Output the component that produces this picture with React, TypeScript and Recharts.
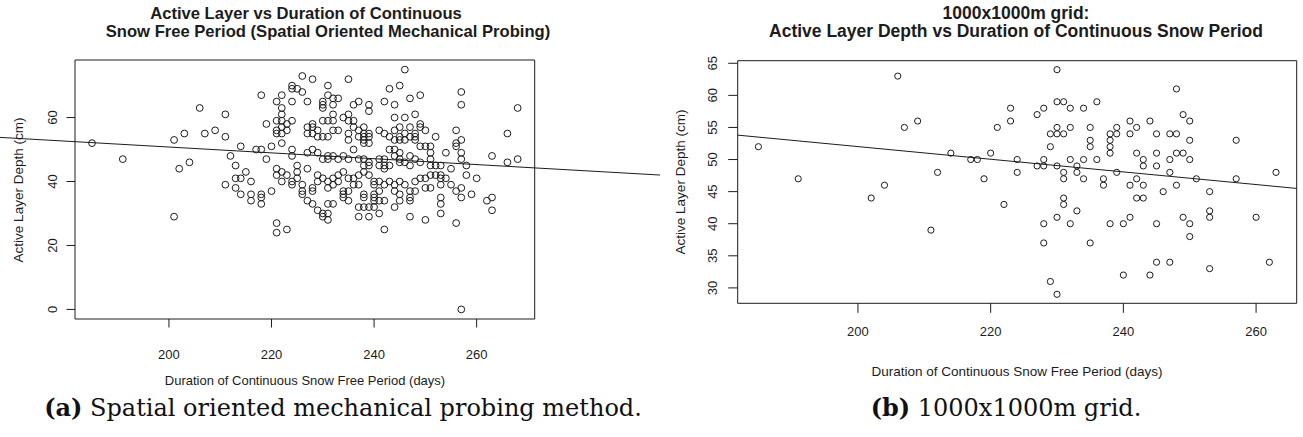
import React from "react";
import { ScatterChart, Scatter, XAxis, YAxis, ReferenceLine, ReferenceArea } from "recharts";

// (days, active layer depth cm)
const probePoints: [number, number][] = [
  [185, 52], [191, 47], [201, 53], [201, 29], [202, 44], [203, 55], [204, 46], [206, 63], [207, 55], [209, 56],
  [211, 61], [211, 54], [211, 39], [212, 48], [213, 45], [213, 41], [213, 38], [214, 51], [214, 41], [214, 36],
  [215, 43], [216, 40], [216, 36], [216, 34], [217, 50], [218, 67], [218, 50], [218, 36], [218, 35], [218, 33],
  [219, 58], [219, 47], [220, 51], [220, 37],
  [221, 65], [221, 59], [221, 56], [221, 55], [221, 44], [221, 42], [221, 27], [221, 24],
  [222, 67], [222, 63], [222, 61], [222, 59], [222, 57], [222, 55], [222, 52], [222, 43], [222, 40],
  [223, 58], [223, 56], [223, 42], [223, 25],
  [224, 70], [224, 69], [224, 65], [224, 59], [224, 50], [224, 48], [224, 40], [224, 39],
  [225, 69], [225, 45], [225, 43], [225, 41],
  [226, 73], [226, 68], [226, 39], [226, 37], [226, 36],
  [227, 65], [227, 57], [227, 55], [227, 49], [227, 44], [227, 34],
  [228, 72], [228, 58], [228, 57], [228, 55], [228, 50], [228, 38], [228, 37], [228, 33],
  [229, 56], [229, 54], [229, 49], [229, 42], [229, 40], [229, 31],
  [230, 65], [230, 64], [230, 63], [230, 59], [230, 54], [230, 47], [230, 41], [230, 30], [230, 29],
  [231, 70], [231, 67], [231, 59], [231, 54], [231, 48], [231, 47], [231, 40], [231, 38], [231, 33], [231, 30], [231, 28],
  [232, 66], [232, 64], [232, 61], [232, 59], [232, 56], [232, 48], [232, 41], [232, 39], [232, 33],
  [233, 66], [233, 56], [233, 47], [233, 42], [233, 40],
  [234, 60], [234, 48], [234, 43], [234, 37], [234, 36], [234, 35],
  [235, 72], [235, 61], [235, 59], [235, 55], [235, 53], [235, 47], [235, 41], [235, 37], [235, 34],
  [236, 64], [236, 59], [236, 57], [236, 50], [236, 41], [236, 39],
  [237, 65], [237, 56], [237, 54], [237, 47], [237, 42], [237, 39], [237, 32], [237, 29],
  [238, 57], [238, 55], [238, 54], [238, 53], [238, 52], [238, 47], [238, 45], [238, 43], [238, 36], [238, 35], [238, 32],
  [239, 64], [239, 62], [239, 55], [239, 54], [239, 52], [239, 46], [239, 45], [239, 42], [239, 32], [239, 29],
  [240, 40], [240, 39], [240, 36], [240, 35], [240, 34], [240, 32],
  [241, 56], [241, 47], [241, 45], [241, 40], [241, 37], [241, 34], [241, 30],
  [242, 65], [242, 55], [242, 47], [242, 45], [242, 44], [242, 39], [242, 34], [242, 25],
  [243, 69], [243, 54], [243, 50], [243, 45], [243, 40],
  [244, 64], [244, 60], [244, 56], [244, 53], [244, 50], [244, 48], [244, 39], [244, 37], [244, 32],
  [245, 70], [245, 57], [245, 54], [245, 53], [245, 49], [245, 47], [245, 46], [245, 40], [245, 36], [245, 34],
  [246, 75], [246, 60], [246, 55], [246, 53], [246, 46], [246, 39],
  [247, 66], [247, 57], [247, 54], [247, 48], [247, 45], [247, 37], [247, 35], [247, 34], [247, 29],
  [248, 61], [248, 55], [248, 54], [248, 53], [248, 47], [248, 40], [248, 37],
  [249, 67], [249, 58], [249, 57], [249, 51], [249, 46], [249, 41],
  [250, 56], [250, 51], [250, 41], [250, 38], [250, 28],
  [251, 51], [251, 49], [251, 47], [251, 45], [251, 42], [251, 38],
  [252, 54], [252, 45], [252, 42],
  [253, 45], [253, 42], [253, 41], [253, 39], [253, 35], [253, 33], [253, 30],
  [254, 49], [254, 41], [255, 44], [255, 39],
  [256, 56], [256, 52], [256, 51], [256, 37], [256, 27],
  [257, 68], [257, 64], [257, 53], [257, 49], [257, 47], [257, 38], [257, 35], [257, 0],
  [258, 45], [258, 42], [259, 36], [260, 41], [262, 34], [263, 48], [263, 35], [263, 31],
  [266, 55], [266, 46], [268, 63], [268, 47],
];

// (days, active layer depth cm) for the 1000x1000m grid panel
const gridPoints: [number, number][] = [
  [185, 52], [191, 47], [202, 44], [204, 46], [206, 63], [207, 55], [209, 56], [211, 39], [212, 48], [214, 51],
  [217, 50], [218, 50], [219, 47], [220, 51], [221, 55], [222, 43], [223, 58], [223, 56], [224, 50], [224, 48],
  [227, 57], [227, 49], [228, 58], [228, 50], [228, 49], [228, 40], [228, 37], [229, 54], [229, 52], [229, 31],
  [230, 64], [230, 59], [230, 55], [230, 54], [230, 49], [230, 41], [230, 29],
  [231, 59], [231, 54], [231, 48], [231, 47], [231, 44], [231, 43],
  [232, 58], [232, 55], [232, 50], [232, 40], [233, 49], [233, 48], [233, 42],
  [234, 58], [234, 50], [234, 47], [235, 55], [235, 53], [235, 52], [235, 37], [236, 59], [236, 50],
  [237, 47], [237, 46], [238, 54], [238, 53], [238, 52], [238, 51], [238, 40], [239, 55], [239, 54], [239, 48],
  [240, 40], [240, 32], [241, 56], [241, 54], [241, 46], [241, 41], [242, 55], [242, 51], [242, 47], [242, 44],
  [243, 50], [243, 49], [243, 46], [243, 44], [244, 56], [244, 32], [245, 54], [245, 51], [245, 49], [245, 40], [245, 34],
  [246, 45], [247, 54], [247, 50], [247, 48], [247, 34], [248, 61], [248, 54], [248, 51], [248, 46],
  [249, 57], [249, 51], [249, 41], [250, 56], [250, 53], [250, 50], [250, 40], [250, 38], [251, 47],
  [253, 45], [253, 42], [253, 41], [253, 33], [257, 53], [257, 47], [260, 41], [262, 34], [263, 48],
];

// fitted lines (abline), two end points each
const probeTrend: [number, number][] = [[167, 53.8], [296, 42.0]];
const gridTrend: [number, number][] = [[181.9, 53.8], [266.1, 45.5]];

const probeXTicks = [200, 220, 240, 260];
const probeYTicks = [0, 20, 40, 60];
const gridXTicks = [200, 220, 240, 260];
const gridYTicks = [30, 35, 40, 45, 50, 55, 60, 65];

const INK = "#1c1c1c";
const SANS = "'Liberation Sans', Arial, sans-serif";
const SERIF = "'DejaVu Serif', serif";

// R style axis limits: data range padded by 4% on each side
function paddedRange(values: number[]): [number, number] {
  const lo = Math.min(...values);
  const hi = Math.max(...values);
  const pad = (hi - lo) * 0.04;
  return [lo - pad, hi + pad];
}

type PanelProps = {
  points: [number, number][];
  trend: [number, number][];
  xTicks: number[];
  yTicks: number[];
  width: number;
  margin: { top: number; right: number; bottom: number; left: number };
  tickLen: number;
  xLabelGap: number;
  yLabelGap: number;
  dotR: number;
};

const AXIS_W = 60;
const AXIS_H = 60;

function Panel({ points, trend, xTicks, yTicks, width, margin, tickLen, xLabelGap, yLabelGap, dotR }: PanelProps) {
  const data = points.map(([x, y]) => ({ x, y }));
  const xDomain = paddedRange(points.map((p) => p[0]));
  const yDomain = paddedRange(points.map((p) => p[1]));

  return (
    <ScatterChart
      width={width}
      height={437}
      margin={{
        top: margin.top,
        right: margin.right,
        bottom: margin.bottom - AXIS_H,
        left: margin.left - AXIS_W,
      }}
    >
      <XAxis
        type="number"
        dataKey="x"
        domain={xDomain}
        ticks={xTicks}
        allowDataOverflow
        interval={0}
        height={AXIS_H}
        axisLine={false}
        tickLine={{ stroke: INK, strokeWidth: 1 }}
        tickSize={tickLen}
        tickMargin={xLabelGap - tickLen}
        tick={(p: any) => (
          <text x={p.x} y={p.y} dy={4.6} textAnchor="middle" fontSize={13} fontFamily={SANS} fill={INK}>
            {p.payload.value}
          </text>
        )}
      />
      <YAxis
        type="number"
        dataKey="y"
        domain={yDomain}
        ticks={yTicks}
        allowDataOverflow
        interval={0}
        width={AXIS_W}
        axisLine={false}
        tickLine={{ stroke: INK, strokeWidth: 1 }}
        tickSize={tickLen}
        tickMargin={yLabelGap - tickLen}
        tick={(p: any) => (
          <text
            x={p.x}
            y={p.y}
            dy={4.6}
            transform={`rotate(-90 ${p.x} ${p.y})`}
            textAnchor="middle"
            fontSize={13}
            fontFamily={SANS}
            fill={INK}
          >
            {p.payload.value}
          </text>
        )}
      />
      <ReferenceArea
        x1={xDomain[0]}
        x2={xDomain[1]}
        y1={yDomain[0]}
        y2={yDomain[1]}
        fill="none"
        fillOpacity={0}
        stroke={INK}
        strokeWidth={1}
        ifOverflow="visible"
      />
      <Scatter
        data={data}
        isAnimationActive={false}
        shape={(p: any) => (
          <circle cx={p.cx} cy={p.cy} r={dotR} fill="none" stroke={INK} strokeWidth={1} />
        )}
      />
      <ReferenceLine
        segment={[
          { x: trend[0][0], y: trend[0][1] },
          { x: trend[1][0], y: trend[1][1] },
        ]}
        stroke={INK}
        strokeWidth={1}
        ifOverflow="visible"
      />
    </ScatterChart>
  );
}

export default function App() {
  return (
    <div style={{ position: "absolute", left: 0, top: 0, width: 1303, height: 437, background: "#fff", overflow: "hidden" }}>
      <div style={{ position: "absolute", left: 0, top: 0 }}>
        <Panel
          points={probePoints}
          trend={probeTrend}
          xTicks={probeXTicks}
          yTicks={probeYTicks}
          width={660}
          margin={{ top: 60, right: 125.3, bottom: 118, left: 75 }}
          tickLen={8.5}
          xLabelGap={35}
          yLabelGap={23}
          dotR={3.4}
        />
      </div>
      <div style={{ position: "absolute", left: 660, top: 0 }}>
        <Panel
          points={gridPoints}
          trend={gridTrend}
          xTicks={gridXTicks}
          yTicks={gridYTicks}
          width={643}
          margin={{ top: 60.7, right: 6.3, bottom: 133.7, left: 77.7 }}
          tickLen={9.5}
          xLabelGap={28}
          yLabelGap={25}
          dotR={3.1}
        />
      </div>
      <svg width={1303} height={437} style={{ position: "absolute", left: 0, top: 0, pointerEvents: "none" }}>
        <g fontFamily={SANS} fill={INK} textAnchor="middle">
          <text x={306} y={19} fontSize={16.6} fontWeight="bold">Active Layer vs Duration of Continuous</text>
          <text x={328} y={37} fontSize={16.6} fontWeight="bold">Snow Free Period (Spatial Oriented Mechanical Probing)</text>
          <text x={305} y={385} fontSize={13}>Duration of Continuous Snow Free Period (days)</text>
          <text x={18} y={190} dy={4.8} fontSize={13.5} transform="rotate(-90 18 190)">Active Layer Depth (cm)</text>

          <text x={1016} y={19} fontSize={17.5} fontWeight="bold">1000x1000m grid:</text>
          <text x={1016} y={37} fontSize={17.5} fontWeight="bold">Active Layer Depth vs Duration of Continuous Snow Period</text>
          <text x={1017} y={376} fontSize={13.5}>Duration of Continuous Snow Free Period (days)</text>
          <text x={680} y={182} dy={4.8} fontSize={13.5} transform="rotate(-90 680 182)">Active Layer Depth (cm)</text>
        </g>
        <g fontFamily={SERIF} fill="#111" textAnchor="middle" fontSize={24}>
          <text x={343} y={416}>
            <tspan fontWeight="bold">(a)</tspan> Spatial oriented mechanical probing method.
          </text>
          <text x={1006} y={416}>
            <tspan fontWeight="bold">(b)</tspan> 1000x1000m grid.
          </text>
        </g>
      </svg>
    </div>
  );
}
